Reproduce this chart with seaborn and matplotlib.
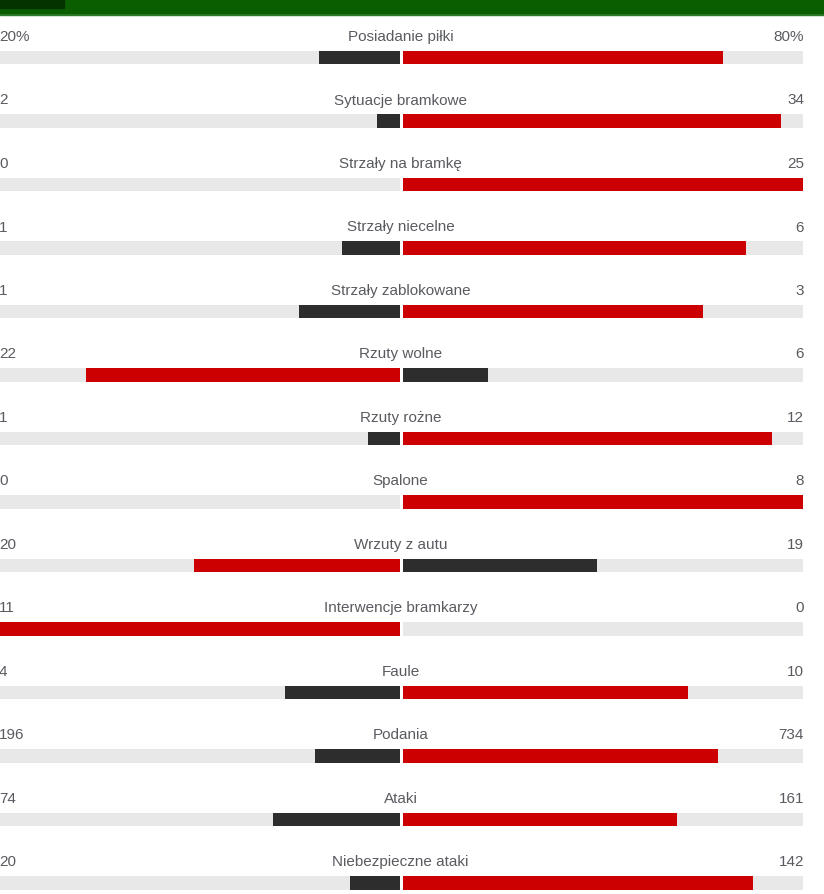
import matplotlib
matplotlib.use("Agg")
import matplotlib.pyplot as plt
from matplotlib.patches import Rectangle
import seaborn as sns
import pandas as pd
import numpy as np

# ---- data ----
stats = ["Posiadanie piłki", "Sytuacje bramkowe", "Strzały na bramkę", "Strzały niecelne",
         "Strzały zablokowane", "Rzuty wolne", "Rzuty rożne", "Spalone", "Wrzuty z autu",
         "Interwencje bramkarzy", "Faule", "Podania", "Ataki", "Niebezpieczne ataki"]
home = [20, 2, 0, 1, 1, 22, 1, 0, 20, 11, 4, 196, 74, 20]
away = [80, 34, 25, 6, 3, 6, 12, 8, 19, 0, 10, 734, 161, 142]
suffix = ["%", "", "", "", "", "", "", "", "", "", "", "", "", ""]

RED = "#cc0000"
DARK = "#2d2d2d"
GREY = "#e8e8e8"
TEXT = "#595b60"

W, H = 824, 895
DPI = 100
HALF_L, HALF_R, GAP = 399.0, 401.0, 1.5
ROW = 63.5
FIRST = 58.5

sns.set_theme(style="white")
plt.rcParams["font.family"] = ["Liberation Sans", "DejaVu Sans"]

fig = plt.figure(figsize=(W / DPI, H / DPI), dpi=DPI)
fig.patch.set_facecolor("white")
ax = fig.add_axes([0, 0, 1, 1])
ax.set_facecolor("white")

# header
fig.patches.append(Rectangle((0, 1 - 16 / H), 1, 16 / H, transform=fig.transFigure,
                             color="#2f7a2a", zorder=0))
fig.patches.append(Rectangle((0, 1 - 14 / H), 1, 14 / H, transform=fig.transFigure,
                             color="#0b5e00", zorder=0))
fig.patches.append(Rectangle((0, 1 - 9 / H), 64 / W, 9 / H, transform=fig.transFigure,
                             color="#053300", zorder=0))

h = np.array(home, dtype=float)
a = np.array(away, dtype=float)
tot = h + a
fh = np.where(tot > 0, h / tot, 0)
fa = np.where(tot > 0, a / tot, 0)

rows = []
for i, s in enumerate(stats):
    rows.append({"stat": s, "side": "bgL", "val": -(GAP + HALF_L)})
    rows.append({"stat": s, "side": "bgR", "val": GAP + HALF_R})
bg = pd.DataFrame(rows)

fg_rows = []
for i, s in enumerate(stats):
    lead_home = h[i] > a[i]
    if fh[i] > 0:
        fg_rows.append({"stat": s, "val": -(GAP + HALF_L * fh[i]), "c": "lead" if lead_home else "trail"})
    if fa[i] > 0:
        fg_rows.append({"stat": s, "val": GAP + HALF_R * fa[i], "c": "trail" if lead_home else "lead"})
fg = pd.DataFrame(fg_rows)

bw = 13.5 / ROW
sns.barplot(data=bg, x="val", y="stat", hue="side", palette={"bgL": GREY, "bgR": GREY},
            orient="h", dodge=False, width=bw, order=stats, legend=False, ax=ax,
            saturation=1, zorder=1)
sns.barplot(data=fg, x="val", y="stat", hue="c", palette={"lead": RED, "trail": DARK},
            orient="h", dodge=False, width=bw, order=stats, legend=False, ax=ax,
            saturation=1, zorder=2)
for p in ax.patches:
    p.set_linewidth(0)

ax.axvline(0, color="white", lw=3 * 72 / DPI, zorder=3)

ax.set_xlim(-(GAP + HALF_L), W - (GAP + HALF_L))
ax.set_ylim((H - FIRST) / ROW, -FIRST / ROW)

for i, s in enumerate(stats):
    ty = i - 21.5 / ROW
    ax.text(0, ty, s, ha="center", va="center", fontsize=11, color=TEXT, zorder=4)
    ax.text(-(GAP + HALF_L) - 1, ty, f"{home[i]}{suffix[i]}", ha="left", va="center",
            fontsize=11, color=TEXT, zorder=4)
    ax.text(GAP + HALF_R + 1, ty, f"{away[i]}{suffix[i]}", ha="right", va="center",
            fontsize=11, color=TEXT, zorder=4)

ax.set_xlabel("")
ax.set_ylabel("")
ax.set_xticks([])
ax.set_yticks([])
for sp in ax.spines.values():
    sp.set_visible(False)

fig.savefig("out.png", dpi=DPI, facecolor="white")
